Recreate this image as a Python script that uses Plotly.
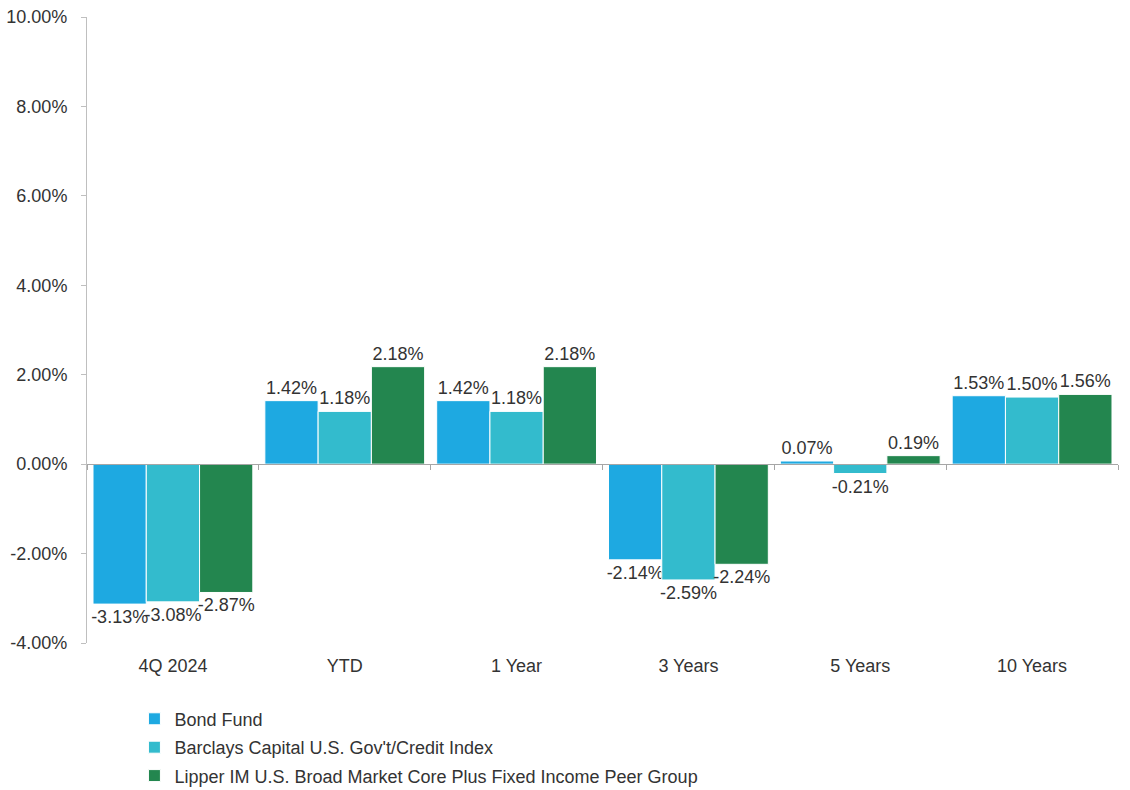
import plotly.graph_objects as go

categories = ["4Q 2024", "YTD", "1 Year", "3 Years", "5 Years", "10 Years"]
series_names = ["Bond Fund", "Barclays Capital U.S. Gov't/Credit Index",
                "Lipper IM U.S. Broad Market Core Plus Fixed Income Peer Group"]
bond_fund = [-3.13, 1.42, 1.42, -2.14, 0.07, 1.53]
barclays = [-3.08, 1.18, 1.18, -2.59, -0.21, 1.50]
lipper = [-2.87, 2.18, 2.18, -2.24, 0.19, 1.56]
y_ticks = [-4, -2, 0, 2, 4, 6, 8, 10]
y_tick_labels = ["-4.00%", "-2.00%", "0.00%", "2.00%", "4.00%", "6.00%", "8.00%", "10.00%"]
colors = ["#1EA9E1", "#33BBCD", "#23864F"]

FONT = "Liberation Sans, Arial"
fig = go.Figure()
for i, (name, vals, col) in enumerate(zip(series_names, [bond_fund, barclays, lipper], colors)):
    fig.add_trace(go.Bar(
        x=categories, y=vals, name=name, legendgroup=f"g{i}",
        marker=dict(color=col, line=dict(color="white", width=1)),
        text=[f"{v:.2f}%" for v in vals], textposition="outside",
        textfont=dict(family=FONT, size=18, color="#333333"),
        constraintext="none", cliponaxis=False,
    ))

# zero-line axis with category boundary ticks
fig.add_trace(go.Scatter(x=[0, 1], y=[0, 0], xaxis="x2", mode="lines",
                         line=dict(width=0), showlegend=False, hoverinfo="skip"))

fig.update_layout(
    width=1130, height=790,
    margin=dict(l=87, r=12, t=17, b=147, autoexpand=False),
    plot_bgcolor="white", paper_bgcolor="white",
    barmode="group", bargap=0.07, bargroupgap=0,
    font=dict(family=FONT, size=18, color="#333333"),
    xaxis=dict(showline=False, ticks="outside", ticklen=6, tickcolor="rgba(0,0,0,0)",
               showgrid=False, zeroline=False, automargin=False,
               tickfont=dict(family=FONT, size=18, color="#333333")),
    xaxis2=dict(overlaying="x", anchor="free", position=4/14, range=[0, 6],
                tickvals=[0, 1, 2, 3, 4, 5, 6], showticklabels=False,
                showline=True, linecolor="#A6A6A6", linewidth=1.2,
                ticks="outside", ticklen=5, tickcolor="#A6A6A6",
                showgrid=False, zeroline=False, automargin=False),
    yaxis=dict(range=[-4, 10], tickvals=y_ticks, ticktext=y_tick_labels,
               showline=True, linecolor="#BFBFBF", linewidth=1,
               ticks="outside", ticklen=5, tickcolor="#BFBFBF",
               ticklabelstandoff=10,
               showgrid=False, zeroline=False, automargin=False,
               tickfont=dict(family=FONT, size=18, color="#333333")),
    legend=dict(orientation="v", x=0.046, y=-0.092, xanchor="left", yanchor="top",
                font=dict(family=FONT, size=18, color="#333333"), tracegroupgap=2,
                itemwidth=30, bgcolor="rgba(0,0,0,0)"),
    showlegend=True,
)

fig.write_html("out.html", config={"displayModeBar": False},
               post_script="document.body.style.margin='0';")
